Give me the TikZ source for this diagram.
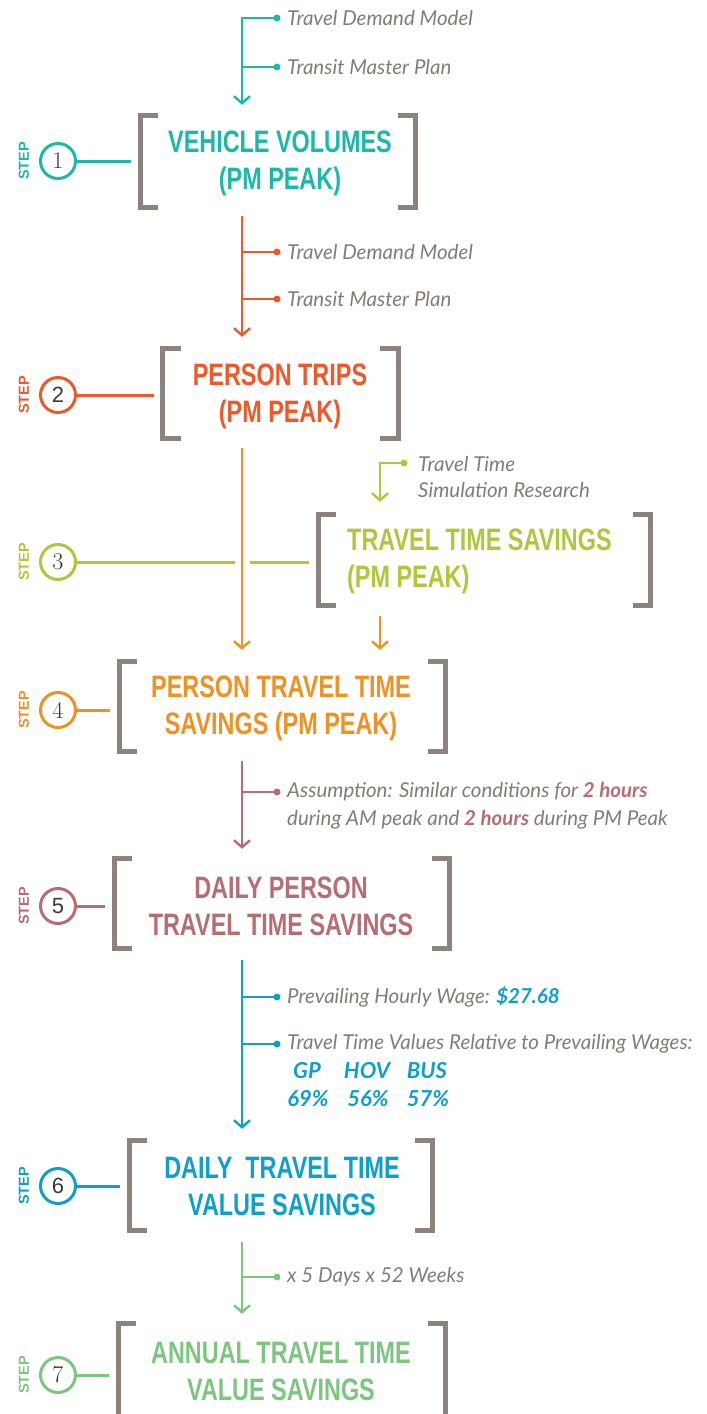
\documentclass[tikz,border=0pt]{standalone}
\usepackage{fontspec}
\newfontfamily\titlefont[FakeStretch=0.755]{Liberation Sans}
\newfontfamily\notefont{Lato}
\newfontfamily\stepfont{Liberation Sans}
\usetikzlibrary{arrows.meta}
\definecolor{cA}{HTML}{1CB8A8}
\definecolor{cB}{HTML}{EE582B}
\definecolor{cC}{HTML}{AFC73B}
\definecolor{cD}{HTML}{EF9223}
\definecolor{cE}{HTML}{B66E72}
\definecolor{cF}{HTML}{0EA0C8}
\definecolor{cG}{HTML}{7CC67F}
\definecolor{brk}{HTML}{8C847C}
\definecolor{gtxt}{HTML}{857C75}
\definecolor{numc}{HTML}{3A3A3A}
\newcommand\stepbrackets[1]{%
  \draw[brkline] ([xshift=18pt]#1.north west) -- (#1.north west) -- (#1.south west) -- ([xshift=18pt]#1.south west);
  \draw[brkline] ([xshift=-18pt]#1.north east) -- (#1.north east) -- (#1.south east) -- ([xshift=-18pt]#1.south east);}
\tikzset{
  flow/.style={line width=2.6pt, -{Straight Barb[length=7pt,width=16pt,line width=2.4pt]}},
  branch/.style={line width=2.6pt},
  stepline/.style={line width=3pt},
  brkline/.style={draw=brk, line width=5pt},
  box/.style={rectangle, inner sep=0pt, draw=none},
  stepcirc/.style={circle, line width=3pt, minimum size=35pt, inner sep=0pt, fill=white, text=numc},
  numrm/.style={font=\fontsize{24}{24}\selectfont},
  numsf/.style={font=\stepfont\fontsize{22}{22}\selectfont},
  title/.style={font=\titlefont\bfseries\fontsize{31}{37}\selectfont, align=center, inner sep=0pt},
  note/.style={font=\notefont\itshape\fontsize{20.5}{28}\selectfont, text=gtxt, anchor=west, inner sep=0pt, align=left},
  val/.style={font=\notefont\itshape\bfseries\fontsize{22}{22}\selectfont, text=cF, inner sep=0pt},
  dot/.style={circle, inner sep=0pt, minimum size=7pt},
  steplabel/.style={rotate=90, inner sep=0pt, font=\stepfont\bfseries\fontsize{14.5}{14}\selectfont}
}
\begin{document}
\begin{tikzpicture}[x=1pt,y=-1pt]
\clip (0,0) rectangle (707,1414);
\fill[white] (0,0) rectangle (707,1414);
\coordinate (spine) at (242,0);
% ---------- boxes ----------
\node[box, minimum width=275pt, minimum height=91pt] (b1) at (278,161.5) {};
\node[box, minimum width=235pt, minimum height=89pt] (b2) at (280.5,393.5) {};
\node[box, minimum width=332pt, minimum height=90pt] (b3) at (484.5,560) {};
\node[box, minimum width=326pt, minimum height=89pt] (b4) at (282.5,706.5) {};
\node[box, minimum width=335pt, minimum height=89pt] (b5) at (282,903.5) {};
\node[box, minimum width=303pt, minimum height=89pt] (b6) at (281,1185.5) {};
\node[box, minimum width=327pt, minimum height=100pt] (b7) at (282,1374) {};
\stepbrackets{b1}\stepbrackets{b2}\stepbrackets{b3}\stepbrackets{b4}\stepbrackets{b5}\stepbrackets{b6}\stepbrackets{b7}
% ---------- titles ----------
\node[title, text=cA] (t1) at (280,163.5) {VEHICLE VOLUMES\\(PM PEAK)};
\node[title, text=cB] (t2) at (280,396) {PERSON TRIPS\\(PM PEAK)};
\node[title, text=cC, align=left, anchor=west] (t3) at (347,561) {TRAVEL TIME SAVINGS\\(PM PEAK)};
\node[title, text=cD] (t4) at (281,708) {PERSON TRAVEL TIME\\SAVINGS (PM PEAK)};
\node[title, text=cE] (t5) at (281,906) {DAILY PERSON\\TRAVEL TIME SAVINGS};
\node[title, text=cF] (t6) at (282,1186) {DAILY\ \ TRAVEL TIME\\VALUE SAVINGS};
\node[title, text=cG] (t7) at (281,1371) {ANNUAL TRAVEL TIME\\VALUE SAVINGS};
% ---------- step circles ----------
\node[stepcirc, draw=cA, numrm] (c1) at (58,161) {1};
\node[stepcirc, draw=cB, numsf] (c2) at (58,395) {2};
\node[stepcirc, draw=cC, numrm] (c3) at (58,562) {3};
\node[stepcirc, draw=cD, numrm] (c4) at (58,710) {4};
\node[stepcirc, draw=cE, numsf] (c5) at (58,906) {5};
\node[stepcirc, draw=cF, numsf] (c6) at (58,1186) {6};
\node[stepcirc, draw=cG, numrm] (c7) at (58,1375) {7};
\node[steplabel, text=cA] (s1) at (24,161) {STEP};
\node[steplabel, text=cB] (s2) at (24,395) {STEP};
\node[steplabel, text=cC] (s3) at (24,562) {STEP};
\node[steplabel, text=cD] (s4) at (24,710) {STEP};
\node[steplabel, text=cE] (s5) at (24,906) {STEP};
\node[steplabel, text=cF] (s6) at (24,1186) {STEP};
\node[steplabel, text=cG] (s7) at (24,1375) {STEP};
\draw[stepline, cA] (c1) -- ([xshift=-9pt]b1.west |- c1);
\draw[stepline, cB] (c2) -- ([xshift=-9pt]b2.west |- c2);
\draw[stepline, cC] (c3) -- ([xshift=-7pt]c3 -| spine);
\draw[stepline, cC] ([xshift=8pt]c3 -| spine) -- ([xshift=-9pt]b3.west |- c3);
\draw[stepline, cD] (c4) -- ([xshift=-9pt]b4.west |- c4);
\draw[stepline, cE] (c5) -- ([xshift=-9pt]b5.west |- c5);
\draw[stepline, cF] (c6) -- ([xshift=-9pt]b6.west |- c6);
\draw[stepline, cG] (c7) -- ([xshift=-9pt]b7.west |- c7);
% ---------- step 1 inputs ----------
\node[dot, fill=cA] (d1a) at (277,18) {};
\node[dot, fill=cA] (d1b) at (277,67) {};
\node[note] (n1a) at (287,18) {Travel Demand Model};
\node[note] (n1b) at (287,67) {Transit Master Plan};
\draw[flow, cA] (d1a.center) -- (d1a -| spine) -- ([yshift=11pt]b1.north -| spine);
\draw[branch, cA] (d1b.center) -- (d1b -| spine);
% ---------- step 2 inputs ----------
\node[dot, fill=cB] (d2a) at (277,252) {};
\node[dot, fill=cB] (d2b) at (277,299) {};
\node[note] (n2a) at (287,252) {Travel Demand Model};
\node[note] (n2b) at (287,299) {Transit Master Plan};
\draw[flow, cB] ([yshift=-9pt]b1.south -| spine) -- ([yshift=12pt]b2.north -| spine);
\draw[branch, cB] (d2a.center) -- (d2a -| spine);
\draw[branch, cB] (d2b.center) -- (d2b -| spine);
% ---------- step 3 / 4 ----------
\coordinate (k3) at (380,463);
\node[dot, fill=cC] (d3) at (404,463) {};
\node[note, font=\notefont\itshape\fontsize{20.5}{26}\selectfont] (n3) at (418,477) {Travel Time\\Simulation Research};
\draw[flow, cC] (d3.center) -- (k3) -- ([yshift=13pt]b3.north -| k3);
\draw[flow, cD] ([yshift=-10pt]b2.south -| spine) -- ([yshift=12pt]b4.north -| spine);
\draw[flow, cD] ([yshift=-11pt]b3.south -| k3) -- ([yshift=12pt]b4.north -| k3);
% ---------- step 5 ----------
\node[dot, fill=cE] (d5) at (277,792) {};
\node[note] (n5) at (287,806) {Assumption: Similar conditions for \textcolor{cE}{\textbf{2 hours}}\\during AM peak and \textcolor{cE}{\textbf{2 hours}} during PM Peak};
\draw[flow, cE] ([yshift=-10pt]b4.south -| spine) -- ([yshift=10pt]b5.north -| spine);
\draw[branch, cE] (d5.center) -- (d5 -| spine);
% ---------- step 6 ----------
\node[dot, fill=cF] (d6a) at (277,997) {};
\node[dot, fill=cF] (d6b) at (277,1044) {};
\node[note] (n6a) at (287,997) {Prevailing Hourly Wage: \textcolor{cF}{\textbf{\$27.68}}};
\node[note] (n6b) at (287,1044) {Travel Time Values Relative to Prevailing Wages:};
\node[val] (g1) at (307,1071) {GP};
\node[val] (g2) at (367,1071) {HOV};
\node[val] (g3) at (427,1071) {BUS};
\node[val] (p1) at (308,1099) {69\%};
\node[val] (p2) at (368,1099) {56\%};
\node[val] (p3) at (428,1099) {57\%};
\draw[flow, cF] ([yshift=-12pt]b5.south -| spine) -- ([yshift=12pt]b6.north -| spine);
\draw[branch, cF] (d6a.center) -- (d6a -| spine);
\draw[branch, cF] (d6b.center) -- (d6b -| spine);
% ---------- step 7 ----------
\node[dot, fill=cG] (d7) at (277,1277) {};
\node[note] (n7) at (287,1277) {x 5 Days x 52 Weeks};
\draw[flow, cG] ([yshift=-12pt]b6.south -| spine) -- ([yshift=10pt]b7.north -| spine);
\draw[branch, cG] (d7.center) -- (d7 -| spine);
\end{tikzpicture}
\end{document}
